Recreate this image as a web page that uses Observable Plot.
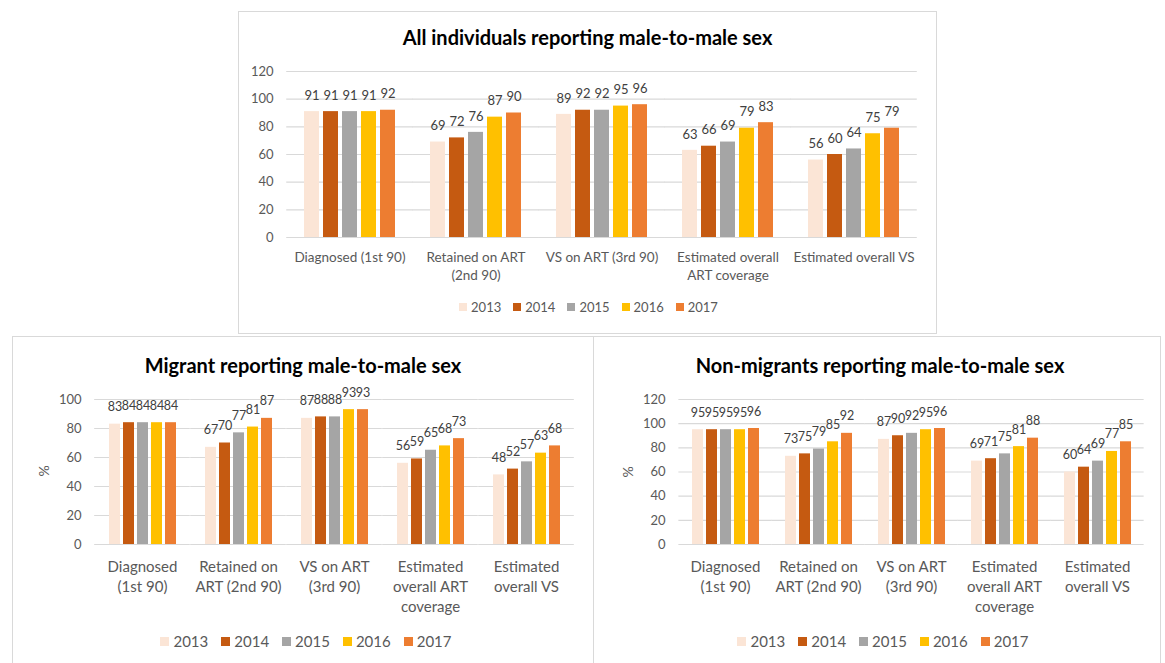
<!DOCTYPE html>
<html>
<head>
<meta charset="utf-8">
<script src="https://cdn.jsdelivr.net/npm/d3@7"></script>
<script src="https://cdn.jsdelivr.net/npm/@observablehq/plot@0.6"></script>
<style>
  html, body { margin: 0; padding: 0; background: #fff; width: 1165px; height: 663px; overflow: hidden; font-family: Lato, "Open Sans", sans-serif; }
  .box { position: absolute; border: 1px solid #d9d9d9; box-sizing: border-box; background: transparent; }
  .title { position: absolute; text-align: center; font-weight: bold; color: #000; font-size: 20px; white-space: nowrap; }
  .legend { position: absolute; display: flex; justify-content: center; align-items: center; color: #595959; white-space: nowrap; }
  .legend .sw { display: inline-block; }
  .chart { position: absolute; }
  .ylab { position: absolute; color: #595959; font-size: 14px; transform: translate(-50%, -50%) rotate(-90deg); }
</style>
</head>
<body>
<div class="box" style="left:238px;top:11px;width:699px;height:323px"></div>
<div class="box" style="left:12px;top:336px;width:582px;height:340px"></div>
<div class="box" style="left:593px;top:336px;width:568px;height:340px"></div>

<div class="title" id="t1" style="left:238px;width:699px;top:24px;line-height:26px"></div>
<div class="title" id="t2" style="left:12px;width:582px;top:352px;line-height:26px"></div>
<div class="title" id="t3" style="left:593px;width:574px;top:352px;line-height:26px"></div>

<div class="chart" id="c1" style="left:237px;top:55px"></div>
<div class="chart" id="c2" style="left:11px;top:380px"></div>
<div class="chart" id="c3" style="left:594px;top:380px"></div>

<div class="ylab" style="left:43px;top:471px">%</div>
<div class="ylab" style="left:627px;top:472px">%</div>

<div class="legend" id="l1" style="left:238px;width:701px;top:297px;height:20px"></div>
<div class="legend" id="l2" style="left:12px;width:588px;top:630px;height:22px"></div>
<div class="legend" id="l3" style="left:593px;width:580px;top:630px;height:22px"></div>

<script>
// ---- data ----
const years = ["2013", "2014", "2015", "2016", "2017"];
const yearColors = ["#FBE5D6", "#C55A11", "#A5A5A5", "#FFC000", "#ED7D31"];
const categories = [
  "Diagnosed (1st 90)",
  "Retained on ART (2nd 90)",
  "VS on ART (3rd 90)",
  "Estimated overall ART coverage",
  "Estimated overall VS"
];
const labelsTop = [
  "Diagnosed (1st 90)",
  "Retained on ART\n(2nd 90)",
  "VS on ART (3rd 90)",
  "Estimated overall\nART coverage",
  "Estimated overall VS"
];
const labelsBottom = [
  "Diagnosed\n(1st 90)",
  "Retained on\nART (2nd 90)",
  "VS on ART\n(3rd 90)",
  "Estimated\noverall ART\ncoverage",
  "Estimated\noverall VS"
];
const titleAll = "All individuals reporting male-to-male sex";
const titleMigrant = "Migrant reporting male-to-male sex";
const titleNonMigrant = "Non-migrants reporting male-to-male sex";

// rows: categories, columns: years
const allValues = [
  [91, 91, 91, 91, 92],
  [69, 72, 76, 87, 90],
  [89, 92, 92, 95, 96],
  [63, 66, 69, 79, 83],
  [56, 60, 64, 75, 79]
];
const migrantValues = [
  [83, 84, 84, 84, 84],
  [67, 70, 77, 81, 87],
  [87, 88, 88, 93, 93],
  [56, 59, 65, 68, 73],
  [48, 52, 57, 63, 68]
];
const nonMigrantValues = [
  [95, 95, 95, 95, 96],
  [73, 75, 79, 85, 92],
  [87, 90, 92, 95, 96],
  [69, 71, 75, 81, 88],
  [60, 64, 69, 77, 85]
];
const ticks120 = [0, 20, 40, 60, 80, 100, 120];
const ticks100 = [0, 20, 40, 60, 80, 100];

// ---- helpers ----
function toRows(values) {
  return categories.flatMap((c, i) => years.map((y, j) => ({category: c, year: y, value: values[i][j]})));
}

function chart(o) {
  const rows = toRows(o.values);
  const plotW = o.width - o.mL - o.mR;
  const step = plotW / categories.length;
  const gridInset = -step * o.fxPad / 2;
  return Plot.plot({
    width: o.width, height: o.height,
    marginLeft: o.mL, marginRight: o.mR, marginTop: o.mT, marginBottom: o.mB,
    style: {fontFamily: "Lato, 'Open Sans', sans-serif", fontSize: o.tickFont + "px", color: "#595959", background: "transparent", overflow: "visible"},
    fx: {domain: categories, paddingInner: o.fxPad, paddingOuter: o.fxPad / 2, label: null},
    x: {domain: years, paddingInner: o.xPad, paddingOuter: 0, axis: null},
    y: {domain: [0, o.ticks[o.ticks.length - 1]], label: null},
    color: {domain: years, range: yearColors},
    marks: [
      Plot.ruleY(o.ticks, {stroke: "#d9d9d9", strokeWidth: 1.2, insetLeft: gridInset, insetRight: gridInset}),
      Plot.barY(rows, {fx: "category", x: "year", y: "value", fill: "year"}),
      Plot.text(rows, {fx: "category", x: "year", y: "value", text: d => String(d.value), dy: o.valueDy, fontSize: o.valueFont, fill: "#404040"}),
      Plot.axisY({ticks: o.ticks, tickSize: 0, tickPadding: o.tickPad, fontSize: o.tickFont, fill: "#595959", label: null}),
      Plot.axisFx({anchor: "bottom", tickSize: 0, tickPadding: o.catPad, fontSize: o.catFont, lineHeight: o.catLH,
        tickFormat: d => o.labels[categories.indexOf(d)], label: null, fill: "#595959"})
    ]
  });
}

function legend(el, sw, font, gapText, gapItem) {
  years.forEach((y, i) => {
    const item = document.createElement("span");
    item.style.display = "inline-flex";
    item.style.alignItems = "center";
    item.style.marginRight = (i < years.length - 1 ? gapItem : 0) + "px";
    const s = document.createElement("span");
    s.className = "sw";
    s.style.width = sw + "px"; s.style.height = sw + "px";
    s.style.background = yearColors[i];
    s.style.marginRight = gapText + "px";
    const t = document.createElement("span");
    t.textContent = y;
    t.style.fontSize = font + "px";
    item.append(s, t);
    el.append(item);
  });
}

document.getElementById("t1").textContent = titleAll;
document.getElementById("t2").textContent = titleMigrant;
document.getElementById("t3").textContent = titleNonMigrant;

document.getElementById("c1").append(chart({
  values: allValues, ticks: ticks120, labels: labelsTop,
  width: 699, height: 240, mL: 48, mR: 18, mT: 16, mB: 58,
  fxPad: 0.265, xPad: 0.2, tickPad: 30, tickFont: 13,
  valueFont: 13, valueDy: -16, catFont: 13.5, catPad: 12, catLH: 1.3
}));
document.getElementById("c2").append(chart({
  values: migrantValues, ticks: ticks100, labels: labelsBottom,
  width: 580, height: 240, mL: 82, mR: 16, mT: 19, mB: 76,
  fxPad: 0.266, xPad: 0.24, tickPad: 26, tickFont: 13,
  valueFont: 12.5, valueDy: -17, catFont: 15, catPad: 13, catLH: 1.34
}));
document.getElementById("c3").append(chart({
  values: nonMigrantValues, ticks: ticks120, labels: labelsBottom,
  width: 566, height: 240, mL: 83, mR: 15, mT: 19, mB: 76,
  fxPad: 0.27, xPad: 0.24, tickPad: 26, tickFont: 13,
  valueFont: 12.5, valueDy: -17, catFont: 15, catPad: 13, catLH: 1.34
}));

legend(document.getElementById("l1"), 8, 13, 4, 12);
legend(document.getElementById("l2"), 9, 15, 4, 13);
legend(document.getElementById("l3"), 9, 15, 4, 13);
</script>
</body>
</html>
